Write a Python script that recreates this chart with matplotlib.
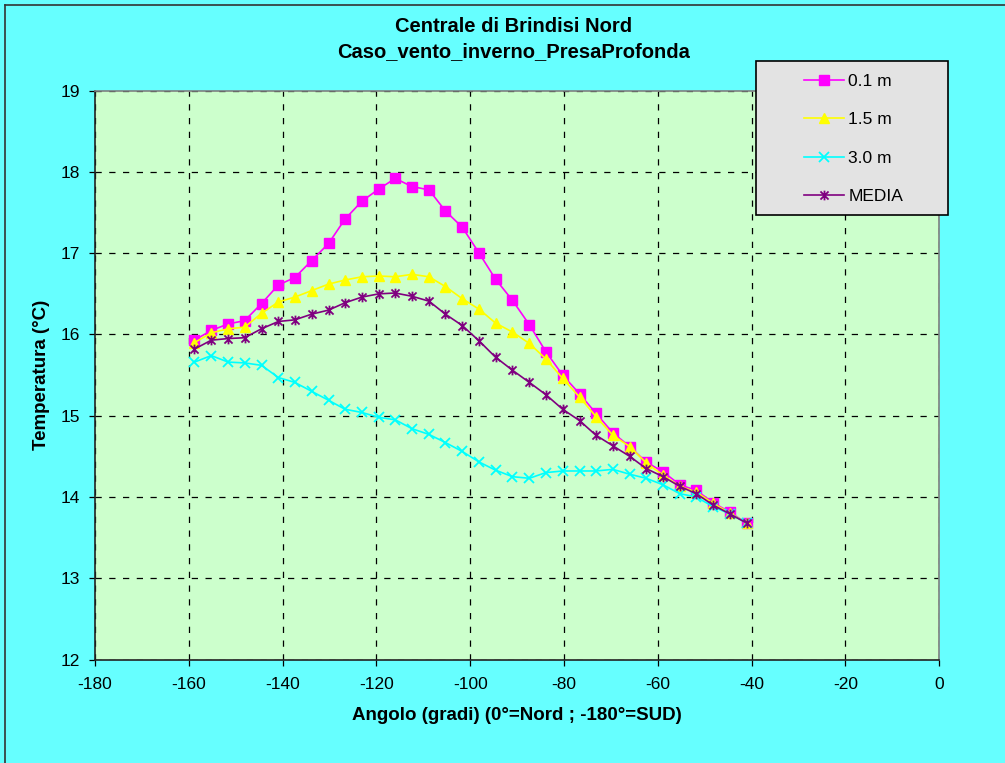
import matplotlib

matplotlib.use("Agg")

import matplotlib.pyplot as plt
from matplotlib.lines import Line2D
from matplotlib.patches import Rectangle
from matplotlib.path import Path

plt.rcParams["font.family"] = ["Liberation Sans", "DejaVu Sans"]
plt.rcParams["axes.unicode_minus"] = False

# Angle of each sampled direction (degrees, 0 = Nord, -180 = SUD)
angles = [
    -158.8, -155.2, -151.6, -148.1, -144.5, -140.9, -137.4, -133.8, -130.2,
    -126.7, -123.1, -119.5, -116.0, -112.4, -108.8, -105.3, -101.7, -98.1,
    -94.6, -91.0, -87.4, -83.9, -80.3, -76.7, -73.2, -69.6, -66.0, -62.5,
    -58.9, -55.3, -51.8, -48.2, -44.6, -41.1,
]

temp_01 = [
    15.93, 16.05, 16.13, 16.17, 16.38, 16.61, 16.70, 16.91, 17.12, 17.42,
    17.64, 17.79, 17.92, 17.82, 17.78, 17.52, 17.32, 17.00, 16.68, 16.42,
    16.12, 15.79, 15.50, 15.27, 15.03, 14.79, 14.62, 14.43, 14.31, 14.15,
    14.08, 13.93, 13.81, 13.68,
]
temp_15 = [
    15.90, 16.02, 16.07, 16.09, 16.26, 16.40, 16.46, 16.54, 16.62, 16.67,
    16.71, 16.72, 16.71, 16.74, 16.71, 16.59, 16.44, 16.31, 16.14, 16.03,
    15.89, 15.70, 15.46, 15.23, 14.99, 14.76, 14.62, 14.42, 14.27, 14.13,
    14.06, 13.92, 13.80, 13.68,
]
temp_30 = [
    15.66, 15.74, 15.66, 15.65, 15.62, 15.47, 15.41, 15.30, 15.19, 15.08,
    15.04, 14.98, 14.95, 14.84, 14.77, 14.67, 14.56, 14.43, 14.33, 14.25,
    14.23, 14.30, 14.32, 14.32, 14.32, 14.34, 14.28, 14.23, 14.15, 14.04,
    14.00, 13.88, 13.79, 13.68,
]
temp_media = [
    15.82, 15.93, 15.95, 15.96, 16.07, 16.16, 16.18, 16.25, 16.30, 16.39,
    16.46, 16.50, 16.51, 16.47, 16.41, 16.25, 16.11, 15.92, 15.72, 15.56,
    15.41, 15.26, 15.08, 14.94, 14.76, 14.63, 14.50, 14.35, 14.25, 14.13,
    14.04, 13.90, 13.79, 13.68,
]

x_ticks = list(range(-180, 1, 20))
y_ticks = list(range(12, 20))

# x with a vertical bar through it
star = Path(
    [(-1, -1), (1, 1), (-1, 1), (1, -1), (0, -1.2), (0, 1.2)],
    [Path.MOVETO, Path.LINETO, Path.MOVETO, Path.LINETO, Path.MOVETO, Path.LINETO],
)

series = [
    ("0.1 m", temp_01, "#FF00FF", dict(marker="s", markersize=6.5)),
    ("1.5 m", temp_15, "#FFFF00", dict(marker="^", markersize=7.5)),
    ("3.0 m", temp_30, "#00FFFF", dict(marker="x", markersize=7, markeredgewidth=1.3)),
    ("MEDIA", temp_media, "#800080", dict(marker=star, markersize=7, markeredgewidth=1.3)),
]

fig = plt.figure(figsize=(10.05, 7.63), dpi=100, facecolor="#66FFFF")
ax = fig.add_axes([95 / 1005, 1 - 659.5 / 763, 844.3 / 1005, 568.8 / 763])
ax.set_facecolor("#CCFFCC")

for label, values, color, style in series:
    ax.plot(
        angles,
        values,
        color=color,
        linewidth=1.2,
        markerfacecolor=color,
        markeredgecolor=color,
        label=label,
        **style,
    )

ax.set_xlim(-180, 0)
ax.set_ylim(12, 19)
ax.set_xticks(x_ticks)
ax.set_yticks(y_ticks)
ax.set_axisbelow(True)
ax.grid(True, color="black", linestyle=(0, (5, 6)), linewidth=0.9)

for side in ("left", "bottom"):
    ax.spines[side].set_color("#222222")
    ax.spines[side].set_linewidth(1.2)
for side in ("top", "right"):
    ax.spines[side].set_color("#808080")
    ax.spines[side].set_linewidth(1.2)

ax.tick_params(axis="both", direction="out", length=4.5, width=0.9, colors="black", labelsize=12.5)
ax.tick_params(axis="x", pad=8)
ax.tick_params(axis="y", pad=6)

ax.set_xlabel("Angolo (gradi) (0°=Nord ; -180°=SUD)", fontsize=13.5, fontweight="bold", labelpad=11)
ax.set_ylabel("Temperatura (°C)", fontsize=13.5, fontweight="bold", labelpad=8)

fig.text(
    0.511,
    0.949,
    "Centrale di Brindisi Nord\nCaso_vento_inverno_PresaProfonda",
    ha="center",
    va="center",
    fontsize=14.5,
    fontweight="bold",
    linespacing=1.4,
)

# legend box sits partly over the plot area
fig.add_artist(
    Rectangle(
        (756 / 1005, 1 - 215 / 763),
        192 / 1005,
        154 / 763,
        transform=fig.transFigure,
        facecolor="#E3E3E3",
        edgecolor="black",
        linewidth=1.2,
        zorder=3,
    )
)
handles, labels = ax.get_legend_handles_labels()
legend = fig.legend(
    handles,
    labels,
    loc="upper left",
    bbox_to_anchor=(804 / 1005, 1 - 73.5 / 763),
    frameon=False,
    fontsize=12.5,
    borderpad=0,
    borderaxespad=0,
    handlelength=2.3,
    handletextpad=0.25,
    labelspacing=1.35,
)
legend.set_zorder(4)

# chart border along the top and left
fig.add_artist(Line2D([5 / 1005, 5 / 1005], [0, 1 - 5 / 763], transform=fig.transFigure, color="#333333", linewidth=1.2))
fig.add_artist(Line2D([5 / 1005, 1], [1 - 5 / 763, 1 - 5 / 763], transform=fig.transFigure, color="#333333", linewidth=1.2))

fig.savefig("out.png", dpi=100, facecolor=fig.get_facecolor())
